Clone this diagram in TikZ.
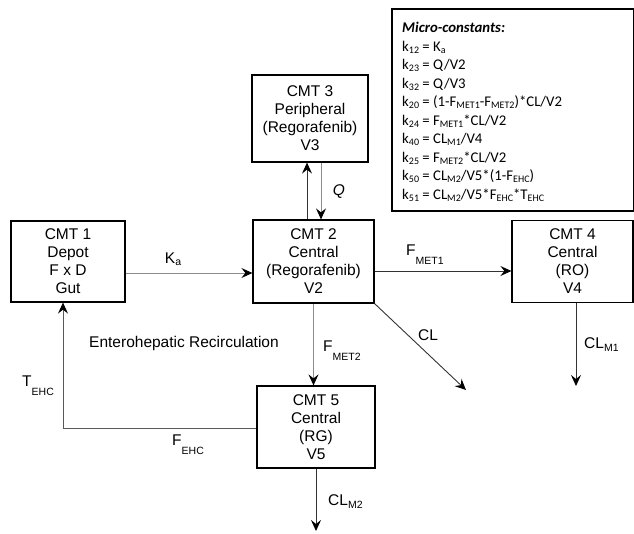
\documentclass[tikz,border=0pt]{standalone}
\usepackage{fontspec}
\setmainfont{Liberation Sans}
\newfontfamily\calibfont{Carlito}
\usetikzlibrary{arrows.meta, positioning, calc}

\newcommand{\lowsub}[2]{#1\raisebox{-8.5pt}{\fontsize{10.5}{10.5}\selectfont #2}}
\newcommand{\smallsub}[1]{\raisebox{-2.5pt}{\fontsize{10.5}{10.5}\selectfont #1}}
\newcommand{\ksub}[1]{\raisebox{-2pt}{\fontsize{10}{10}\selectfont #1}}

\tikzset{
  cmtbox/.style={draw, line width=1.2pt, align=center, inner sep=0pt},
  flow/.style={draw=black!80, line width=0.9pt, -{Stealth[length=11pt, width=10pt, inset=4pt, color=black]}},
  flowlight/.style={flow, draw=black!45},
  lbl/.style={inner sep=0pt},
}

\begin{document}
\begin{tikzpicture}[x=1pt, y=-1pt, font=\fontsize{15.5}{18}\selectfont]
  \useasboundingbox (0,0) rectangle (634,533);
  % Compartments
  \node[cmtbox, minimum width=114pt, minimum height=81pt] (cmt1) at (68,261.5) {CMT 1\\Depot\\F x D\\Gut};
  \node[cmtbox, minimum width=121pt, minimum height=83pt] (cmt2) at (313.5,261.5) {CMT 2\\Central\\(Regorafenib)\\V2};
  \node[cmtbox, minimum width=116pt, minimum height=87pt] (cmt3) at (310,118.5) {CMT 3\\Peripheral\\(Regorafenib)\\V3};
  \node[cmtbox, minimum width=121pt, minimum height=82pt] (cmt4) at (572.5,261.5) {CMT 4\\Central\\(RO)\\V4};
  \node[cmtbox, minimum width=118pt, minimum height=82pt] (cmt5) at (316,427) {CMT 5\\Central\\(RG)\\V5};
  % Free ends
  \coordinate (clend) at (466,390);
  \coordinate (clmoneend) at (576,386);
  \coordinate (clmtwoend) at (316,531);
  % Absorption and distribution
  \draw[flowlight] ([yshift=-11.5pt]cmt1.east) -- ([yshift=-11.5pt]cmt2.west);
  \node[lbl] (ka) at (173,259) {K\smallsub{a}};
  \draw[flow] ([xshift=-6.5pt]cmt2.north) -- ([xshift=-6.5pt]cmt2.north |- cmt3.south);
  \draw[flowlight] ([xshift=7.5pt]cmt2.north |- cmt3.south) -- ([xshift=7.5pt]cmt2.north);
  \node[lbl, font=\fontsize{15.5}{18}\selectfont\itshape] (q) at (339,192) {Q};
  % Metabolism and clearance
  \draw[flow] ([yshift=-9.5pt]cmt2.east) -- ([yshift=-9.5pt]cmt2.east -| cmt4.west);
  \node[lbl, anchor=base west] (fmetone) at (406,255.5) {\lowsub{F}{MET1}};
  \draw[flow] (cmt4.south -| clmoneend) -- (clmoneend);
  \node[lbl, anchor=base west] (clmone) at (584,348.5) {CL\smallsub{M1}};
  \draw[flow] (cmt2.south east) -- (clend);
  \node[lbl] (cl) at (428,335) {CL};
  \draw[flowlight] (cmt2.south) -- (cmt2.south |- cmt5.north);
  \node[lbl, anchor=base west] (fmettwo) at (323,351.5) {\lowsub{F}{MET2}};
  \draw[flow] (cmt5.south) -- (clmtwoend);
  \node[lbl, anchor=base west] (clmtwo) at (328,505.5) {CL\smallsub{M2}};
  % Enterohepatic recirculation
  \draw[flow, draw=black!65] ([yshift=-1pt]cmt5.west) -| ([xshift=-5pt]cmt1.south);
  \node[lbl] (ehc) at (184,343) {Enterohepatic Recirculation};
  \node[lbl, anchor=base west] (tehc) at (22,386.5) {\lowsub{T}{EHC}};
  \node[lbl, anchor=base west] (fehc) at (172,445.5) {\lowsub{F}{EHC}};
  % Micro-constants
  \node[draw, line width=1.6pt, minimum width=242pt, minimum height=202pt, anchor=north west, inner sep=0pt] (micro) at (391,8) {};
  \node[anchor=north west, align=left, inner sep=0pt, font=\calibfont\fontsize{14.8}{18.5}\selectfont] (microtext) at (402,22) {%
    \textbf{\textit{Micro-constants:}}\\
    k\ksub{12} = K\ksub{a}\\
    k\ksub{23} = Q/V2\\
    k\ksub{32} = Q/V3\\
    k\ksub{20} = (1-F\ksub{MET1}-F\ksub{MET2})*CL/V2\\
    k\ksub{24} = F\ksub{MET1}*CL/V2\\
    k\ksub{40} = CL\ksub{M1}/V4\\
    k\ksub{25} = F\ksub{MET2}*CL/V2\\
    k\ksub{50} = CL\ksub{M2}/V5*(1-F\ksub{EHC})\\
    k\ksub{51} = CL\ksub{M2}/V5*F\ksub{EHC}*T\ksub{EHC}};
\end{tikzpicture}
\end{document}
